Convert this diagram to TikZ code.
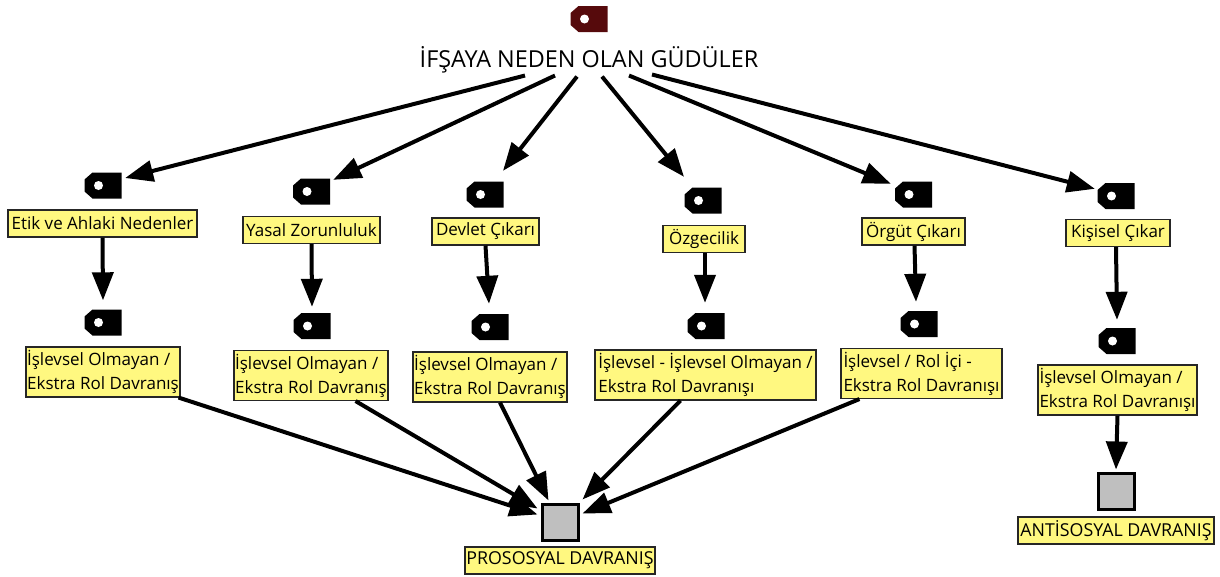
\documentclass[tikz,border=0pt]{standalone}
\usepackage{fontspec}
\setmainfont{Open Sans}
\usetikzlibrary{arrows.meta,positioning}
\tikzset {
    style Tag/.style={
        rectangle, % Set the shape as a rectangle
        minimum width=37pt,
        minimum height=26pt,
        inner sep=0pt,
        path picture={
            \fill[#1] ([xshift=8pt]path picture bounding box.north west)
                -- (path picture bounding box.north east)
                -- (path picture bounding box.south east)
                -- ([xshift=8pt]path picture bounding box.south west)
                -- ([yshift=7pt]path picture bounding box.south west)
                -- ([yshift=-7pt]path picture bounding box.north west) -- cycle;
            \fill[white] ([xshift=14pt,yshift=-13pt]path picture bounding box.north west) circle (4.5pt);
        },
    },
    style Tag/.default=black,
    style Label/.style={
        fill=yellow!50,
        draw=black!85,
        line width=1.1pt,
        rectangle, % Set the shape as a rectangle
        inner sep=0pt,
        minimum height=27pt,
        align=left,
        font=\fontsize{17}{24}\selectfont,
    },
    style Caps/.style={
        style Label,
        font=\fontsize{17.8}{24}\selectfont,
    },
    style Box/.style={
        fill=black!25,
        draw=black,
        line width=3pt,
        rectangle, % Set the shape as a rectangle
        minimum size=36pt,
        inner sep=0pt,
    },
    style Flow/.style={
        draw=black,
        line width=4pt,
        -{Triangle[length=28pt,width=21pt]},
    },
}
\definecolor{tagred}{HTML}{560A0C}
\begin{document}
\begin{tikzpicture}[x=1pt,y=-1pt]
\useasboundingbox (0,0) rectangle (1220,576);

\node [style Tag=tagred] (top) at (589,19) {};
\node [font=\fontsize{23.4}{28}\selectfont, inner sep=0pt, minimum height=26pt] (title) at (589,60) {İFŞAYA NEDEN OLAN GÜDÜLER};

% first row
\node [style Tag] (tag1) at (103,185.5) {};
\node [style Tag] (tag2) at (311.5,191.5) {};
\node [style Tag] (tag3) at (485,194.5) {};
\node [style Tag] (tag4) at (703,200.5) {};
\node [style Tag] (tag5) at (913.5,194.5) {};
\node [style Tag] (tag6) at (1116,196) {};

\node [style Label, minimum width=189pt] (etik) at (102.5,223.5) {Etik ve Ahlaki Nedenler};
\node [style Label, minimum width=137pt] (yasal) at (311.5,230) {Yasal Zorunluluk};
\node [style Label, minimum width=107pt] (devlet) at (485.5,231.5) {Devlet Çıkarı};
\node [style Label, minimum width=82pt] (ozgecilik) at (704,239) {Özgecilik};
\node [style Label, minimum width=103pt] (orgut) at (913.5,231.5) {Örgüt Çıkarı};
\node [style Label, minimum width=104pt] (kisisel) at (1118,233) {Kişisel Çıkar};

% second row
\node [style Tag] (rol1) at (103,322.5) {};
\node [style Tag] (rol2) at (312,326) {};
\node [style Tag] (rol3) at (490,327) {};
\node [style Tag] (rol4) at (706,326) {};
\node [style Tag] (rol5) at (919,324) {};
\node [style Tag] (rol6) at (1117,341) {};

\node [style Label, minimum width=154pt, minimum height=50pt] (davranis1) at (103,372) {İşlevsel Olmayan /\\Ekstra Rol Davranış};
\node [style Label, minimum width=154pt, minimum height=50pt] (davranis2) at (311,375.5) {İşlevsel Olmayan /\\Ekstra Rol Davranış};
\node [style Label, minimum width=154pt, minimum height=50pt] (davranis3) at (490,377) {İşlevsel Olmayan /\\Ekstra Rol Davranış};
\node [style Label, minimum width=221pt, minimum height=50pt] (davranis4) at (705.5,375) {İşlevsel - İşlevsel Olmayan /\\Ekstra Rol Davranışı};
\node [style Label, minimum width=161pt, minimum height=50pt] (davranis5) at (921.5,373.5) {İşlevsel / Rol İçi -\\Ekstra Rol Davranışı};
\node [style Label, minimum width=159pt, minimum height=50pt] (davranis6) at (1117.5,390) {İşlevsel Olmayan /\\Ekstra Rol Davranışı};

% results
\node [style Box] (prosos) at (560,522) {};
\node [style Caps, minimum width=190pt] (proslabel) at (560,560.5) {PROSOSYAL DAVRANIŞ};
\node [style Box] (antisos) at (1116,491) {};
\node [style Caps, minimum width=196pt] (antilabel) at (1116,530.5) {ANTİSOSYAL DAVRANIŞ};

% from the title
\draw [style Flow] ([xshift=-64pt,yshift=-2pt]title.south) -- ([xshift=3.5pt,yshift=7.5pt]tag1.east);
\draw [style Flow] ([xshift=-34pt,yshift=-2pt]title.south) -- ([xshift=3pt,yshift=-1.5pt]tag2.north east);
\draw [style Flow] ([xshift=-12pt,yshift=-3pt]title.south) -- ([xshift=18pt,yshift=10.5pt]tag3.north);
\draw [style Flow] ([xshift=13pt,yshift=-3pt]title.south) -- ([xshift=-19pt,yshift=10.5pt]tag4.north);
\draw [style Flow] ([xshift=40pt,yshift=-2pt]title.south) -- ([xshift=-4pt,yshift=-2.5pt]tag5.north west);
\draw [style Flow] ([xshift=63pt,yshift=-1pt]title.south) -- ([xshift=-2.5pt,yshift=-6pt]tag6.north west);

% down the columns
\draw [style Flow] (etik.south) -- ([yshift=9pt]rol1.north);
\draw [style Flow] (yasal.south) -- ([yshift=6pt]rol2.north);
\draw [style Flow] (devlet.south) -- ([xshift=-1pt,yshift=10pt]rol3.north);
\draw [style Flow] ([xshift=1pt]ozgecilik.south) -- ([xshift=-1pt,yshift=10pt]rol4.north);
\draw [style Flow] ([xshift=1pt]orgut.south) -- ([xshift=-3pt,yshift=9pt]rol5.north);
\draw [style Flow] ([xshift=-2pt]kisisel.south) -- ([yshift=8pt]rol6.north);
\draw [style Flow] (davranis6.south) -- ([yshift=2pt]antisos.north);

% into the boxes
\draw [style Flow] ([xshift=-2pt]davranis1.south east) -- ([xshift=-3pt,yshift=-12pt]prosos.north west);
\draw [style Flow] ([xshift=-33pt]davranis2.south east) -- ([xshift=-3pt,yshift=-6pt]prosos.north west);
\draw [style Flow] ([xshift=10pt]davranis3.south) -- ([xshift=8pt,yshift=2pt]prosos.north west);
\draw [style Flow] ([xshift=-25pt]davranis4.south) -- ([xshift=3pt,yshift=3pt]prosos.north east);
\draw [style Flow] ([xshift=19pt]davranis5.south west) -- ([xshift=3pt,yshift=-11pt]prosos.north east);
\end{tikzpicture}
\end{document}
